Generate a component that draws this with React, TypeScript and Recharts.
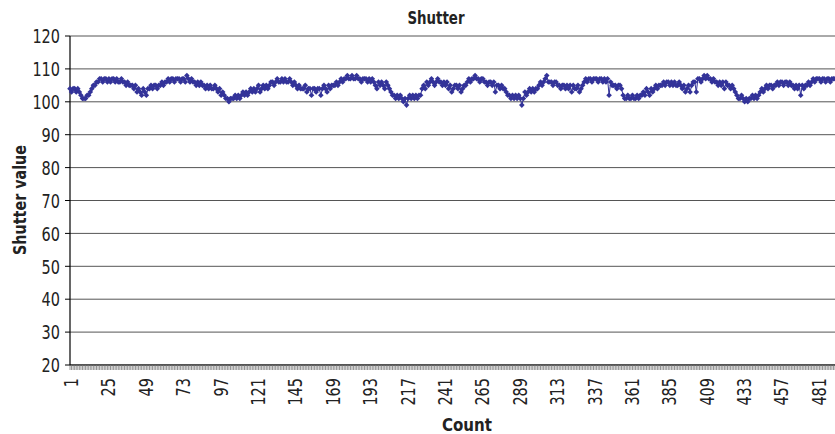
import React from 'react';
import { LineChart, Line, XAxis, YAxis, CartesianGrid } from 'recharts';

const shutterValues: number[] = [
  104, 103, 104, 104, 103, 104, 103, 102, 101, 101,
  101, 102, 102, 103, 104, 105, 105, 106, 106, 107,
  107, 106, 107, 107, 106, 107, 106, 107, 107, 106,
  107, 106, 106, 107, 106, 106, 105, 106, 105, 105,
  105, 104, 105, 103, 104, 103, 102, 104, 103, 102,
  104, 104, 105, 104, 105, 105, 104, 105, 105, 106,
  105, 106, 106, 107, 106, 107, 107, 106, 107, 107,
  107, 106, 107, 107, 106, 108, 107, 106, 107, 106,
  106, 105, 106, 105, 106, 105, 105, 104, 105, 104,
  105, 104, 104, 105, 104, 103, 104, 102, 103, 102,
  101, 101, 100, 101, 101, 101, 102, 101, 102, 101,
  102, 103, 102, 103, 102, 103, 104, 103, 104, 103,
  104, 105, 103, 104, 105, 104, 105, 104, 105, 106,
  106, 105, 106, 107, 106, 106, 107, 106, 107, 106,
  106, 107, 106, 105, 106, 105, 104, 105, 104, 104,
  104, 105, 103, 104, 104, 102, 104, 104, 103, 104,
  104, 102, 104, 105, 104, 103, 105, 104, 105, 105,
  105, 106, 105, 106, 107, 106, 107, 107, 108, 107,
  107, 108, 107, 107, 108, 107, 107, 106, 107, 107,
  107, 106, 107, 106, 107, 106, 105, 104, 106, 105,
  106, 105, 104, 106, 105, 104, 103, 102, 102, 101,
  102, 101, 102, 101, 100, 101, 99, 101, 102, 101,
  102, 101, 102, 101, 102, 102, 104, 105, 104, 106,
  105, 106, 107, 106, 105, 106, 107, 106, 106, 105,
  106, 105, 106, 104, 105, 103, 104, 105, 105, 104,
  105, 103, 104, 105, 105, 106, 107, 106, 107, 107,
  108, 107, 107, 106, 107, 107, 106, 106, 105, 106,
  106, 105, 106, 103, 105, 105, 104, 105, 104, 104,
  103, 102, 102, 101, 102, 101, 102, 101, 102, 101,
  99, 101, 103, 102, 103, 104, 103, 104, 103, 104,
  104, 105, 106, 105, 106, 107, 108, 106, 106, 106,
  105, 106, 106, 105, 105, 104, 105, 105, 104, 105,
  104, 105, 103, 105, 104, 104, 105, 103, 104, 105,
  106, 107, 106, 107, 107, 106, 107, 107, 107, 106,
  107, 107, 106, 107, 106, 107, 102, 106, 105, 105,
  105, 104, 105, 105, 104, 102, 101, 101, 102, 101,
  101, 102, 101, 101, 102, 101, 102, 102, 103, 102,
  104, 103, 102, 104, 103, 104, 105, 104, 105, 105,
  105, 106, 105, 106, 106, 105, 106, 105, 106, 105,
  105, 106, 105, 104, 105, 103, 104, 105, 103, 105,
  106, 106, 103, 107, 107, 106, 107, 108, 107, 108,
  107, 107, 106, 107, 106, 106, 105, 106, 105, 106,
  104, 106, 105, 105, 104, 105, 104, 103, 102, 101,
  101, 102, 101, 100, 101, 100, 101, 101, 102, 101,
  102, 101, 102, 103, 104, 103, 104, 105, 104, 105,
  105, 104, 105, 105, 106, 105, 106, 106, 105, 106,
  106, 105, 106, 105, 105, 104, 105, 104, 105, 102,
  105, 104, 105, 105, 106, 105, 106, 107, 106, 107,
  107, 107, 106, 107, 107, 106, 107, 107, 106, 107,
  107, 107,
];

const counts: number[] = shutterValues.map((_, i) => i + 1);
const yTicks: number[] = [20, 30, 40, 50, 60, 70, 80, 90, 100, 110, 120];
const labelStep = 24;

const data = counts.map((c, i) => ({ count: c, value: shutterValues[i] }));

const FONT = "'DejaVu Sans Condensed', 'DejaVu Sans', sans-serif";
const LINE_COLOR = '#333399';
const DIGIT_W = 9.2;

const XTick = (props: any) => {
  const { x, y, payload } = props;
  const v = payload.value as number;
  if ((v - 1) % labelStep !== 0) return <g />;
  const s = String(v);
  return (
    <text
      x={x + 1}
      y={y}
      transform={`rotate(-90, ${x + 1}, ${y})`}
      textAnchor="end"
      dominantBaseline="central"
      fontFamily={FONT}
      fontSize={20}
      fill="#222"
      textLength={s.length * DIGIT_W}
      lengthAdjust="spacingAndGlyphs"
    >
      {s}
    </text>
  );
};

const YTick = (props: any) => {
  const { x, y, payload } = props;
  const s = String(payload.value);
  return (
    <text
      x={x}
      y={y}
      dy="0.36em"
      textAnchor="end"
      fontFamily={FONT}
      fontSize={20}
      fill="#222"
      textLength={s.length * DIGIT_W}
      lengthAdjust="spacingAndGlyphs"
    >
      {s}
    </text>
  );
};

const Diamond = (props: any) => {
  const { cx, cy, index } = props;
  if (cx == null || cy == null) return <g key={`d-${index}`} />;
  const r = 2.8;
  return (
    <path
      key={`d-${index}`}
      d={`M${cx},${cy - r}L${cx + r},${cy}L${cx},${cy + r}L${cx - r},${cy}Z`}
      fill={LINE_COLOR}
      stroke="none"
    />
  );
};

export default function App() {
  return (
    <div style={{ position: 'absolute', left: 0, top: 0, width: 835, height: 434, background: '#fff', overflow: 'hidden' }}>
      <LineChart
        width={835}
        height={434}
        data={data}
        margin={{ top: 36, right: 0, bottom: 0, left: 0 }}
      >
        <CartesianGrid horizontal vertical={false} stroke="#555" strokeWidth={1} />
        <XAxis
          dataKey="count"
          type="category"
          interval={0}
          height={69}
          tickSize={5}
          tickMargin={8}
          tick={<XTick />}
          tickLine={{ stroke: '#777', strokeWidth: 0.8 }}
          axisLine={{ stroke: '#000', strokeWidth: 1.2 }}
        />
        <YAxis
          type="number"
          domain={[20, 120]}
          ticks={yTicks}
          width={70}
          tickSize={5}
          tickMargin={5}
          interval={0}
          tick={<YTick />}
          tickLine={{ stroke: '#000' }}
          axisLine={{ stroke: '#000', strokeWidth: 1.2 }}
        />
        <Line
          type="linear"
          dataKey="value"
          stroke={LINE_COLOR}
          strokeWidth={1}
          dot={<Diamond />}
          activeDot={false}
          isAnimationActive={false}
        />
      </LineChart>
      <svg
        width={835}
        height={434}
        style={{ position: 'absolute', left: 0, top: 0, pointerEvents: 'none' }}
      >
        <text
          x={436}
          y={24}
          textAnchor="middle"
          fontFamily={FONT}
          fontWeight="bold"
          fontSize={18}
          fill="#222"
          textLength={57}
          lengthAdjust="spacingAndGlyphs"
        >
          Shutter
        </text>
        <text
          x={26}
          y={200}
          transform="rotate(-90, 26, 200)"
          textAnchor="middle"
          fontFamily={FONT}
          fontWeight="bold"
          fontSize={18}
          fill="#222"
          textLength={110}
          lengthAdjust="spacingAndGlyphs"
        >
          Shutter value
        </text>
        <text
          x={467}
          y={431}
          textAnchor="middle"
          fontFamily={FONT}
          fontWeight="bold"
          fontSize={18}
          fill="#222"
          textLength={50}
          lengthAdjust="spacingAndGlyphs"
        >
          Count
        </text>
      </svg>
    </div>
  );
}
